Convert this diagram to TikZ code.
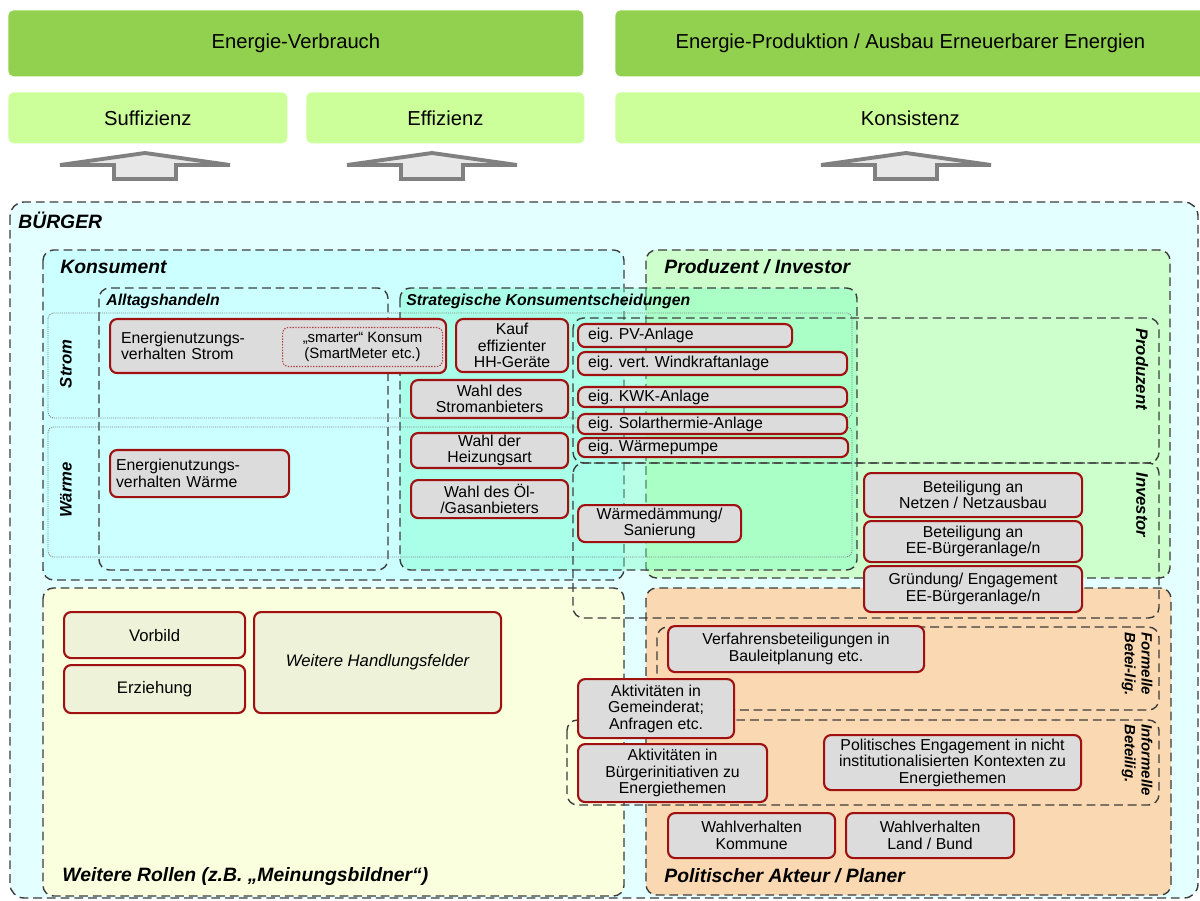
\documentclass[tikz,border=0pt]{standalone}
\usepackage{fontspec}
\setmainfont{Liberation Sans}
\usetikzlibrary{positioning}
\definecolor{topgreen}{RGB}{146,208,80}
\definecolor{palegreen}{RGB}{204,255,153}
\definecolor{buergercol}{RGB}{228,255,255}
\definecolor{konscol}{RGB}{204,255,255}
\definecolor{prodcol}{RGB}{204,255,204}
\definecolor{stratcol}{RGB}{110,255,190}
\definecolor{weitcol}{RGB}{250,255,222}
\definecolor{polcol}{RGB}{250,216,178}
\definecolor{boxgray}{RGB}{220,220,220}
\definecolor{boxkhaki}{RGB}{238,242,216}
\definecolor{boxred}{RGB}{160,16,16}
\definecolor{zonegray}{RGB}{60,60,60}
\definecolor{arrgray}{RGB}{128,128,128}
\frenchspacing

\begin{document}
\begin{tikzpicture}[x=0.2mm, y=-0.2mm,
    head/.style={fill=topgreen, rounded corners=3pt, anchor=north west, font=\fontsize{11.5}{13}\selectfont},
    sub/.style={head, fill=palegreen},
    uparr/.style={draw=arrgray, fill=gray!18, line width=2.2pt},
    zone/.style={draw=zonegray, line width=0.8pt, dash pattern=on 5pt off 2.8pt, rounded corners=6pt},
    row/.style={draw=gray, line width=0.5pt, dash pattern=on 0.6pt off 0.6pt, rounded corners=3pt},
    ttl/.style={anchor=west, inner sep=0pt, font=\bfseries\itshape\fontsize{11}{12}\selectfont},
    sttl/.style={ttl, font=\bfseries\itshape\fontsize{9}{10}\selectfont},
    vttl/.style={inner sep=0pt, align=left, font=\bfseries\itshape\fontsize{9.5}{10}\selectfont},
    rbox/.style={draw=boxred, fill=boxgray, line width=1.2pt, rounded corners=4pt, anchor=north west,
      align=center, inner sep=1pt, font=\fontsize{9}{9.4}\selectfont},
    lbox/.style={rbox, align=left, inner xsep=2mm},
    wbox/.style={rbox, fill=boxkhaki, font=\fontsize{9.5}{10}\selectfont},
    sz/.style 2 args={minimum width=#1*0.2mm, minimum height=#2*0.2mm},
  ]
  \fill[white] (0,0) rectangle (1200,901);
  \useasboundingbox (0,0) rectangle (1200,901);

  % Ziele oben
  \node[head, sz={575}{66}] (verbrauch) at (8,10) {Energie-Verbrauch};
  \node[head, sz={590}{66}] (produktion) at (615,10) {Energie-Produktion / Ausbau Erneuerbarer Energien};
  \node[sub, sz={279}{51}] (suff) at (8,92) {Suffizienz};
  \node[sub, sz={278}{51}] (eff) at (306,92) {Effizienz};
  \node[sub, sz={590}{51}] (konsis) at (615,92) {Konsistenz};
  \foreach \c in {145,432,906}
    \draw[uparr] (\c-85,165) -- (\c,153) -- (\c+85,165) -- (\c+31,165)
      -- (\c+31,179) -- (\c-31,179) -- (\c-31,165) -- cycle;

  % Rollen
  \draw[zone, fill=buergercol, rounded corners=8pt] (10,202) rectangle (1198,898);
  \draw[zone, fill=konscol] (43,250) rectangle (624,580);
  \draw[zone, fill=prodcol] (646,250) rectangle (1170,578);
  \draw[zone, fill=weitcol] (43,588) rectangle (624,896);
  \draw[zone, fill=polcol] (646,588) rectangle (1171,895);
  \draw[zone, fill=stratcol, fill opacity=0.37] (400,288) rectangle (857,570);
  \draw[zone] (99,288) rectangle (388,570);
  \draw[row] (48,313) rectangle (852,418);
  \draw[row] (48,427) rectangle (852,557);
  \draw[zone] (573,318) rectangle (1159,463);
  \draw[zone] (573,463) rectangle (1159,618);
  \draw[zone] (657,627) rectangle (1159,710);
  \draw[zone] (567,720) rectangle (1159,805);

  \node[ttl] (buerger) at (18,220) {BÜRGER};
  \node[ttl] (konsument) at (60,267) {Konsument};
  \node[ttl] (produzent) at (664,267) {Produzent / Investor};
  \node[sttl] (alltag) at (106,301) {Alltagshandeln};
  \node[sttl] (strat) at (406,301) {Strategische Konsumentscheidungen};
  \node[ttl] (weitere) at (62,876) {Weitere Rollen (z.B. „Meinungsbildner“)};
  \node[ttl] (politisch) at (664,876) {Politischer Akteur / Planer};
  \node[vttl, rotate=90] (stromlbl) at (66,364) {Strom};
  \node[vttl, rotate=90] (waermelbl) at (66,490) {Wärme};
  \node[vttl, rotate=-90] (prodlbl) at (1142,369) {Produzent};
  \node[vttl, rotate=-90] (invlbl) at (1142,505) {Investor};
  \node[vttl, rotate=-90, font=\bfseries\itshape\fontsize{8.5}{9.5}\selectfont] (formlbl) at (1137,664) {Formelle\\Betei-lig.};
  \node[vttl, rotate=-90, font=\bfseries\itshape\fontsize{8.5}{9.5}\selectfont] (informlbl) at (1137,760) {Informelle\\Beteilig.};

  % Handlungen
  \node[lbox, text width=62.8mm, inner xsep=2.2mm, minimum height=10.8mm] (stromverh) at (109,318) {Energienutzungs-\\verhalten Strom};
  \node[rbox, sz={160}{39}, draw=boxred!80, line width=0.6pt, dash pattern=on 0.8pt off 0.8pt, rounded corners=3pt,
    font=\fontsize{8.5}{9}\selectfont] (smart) at (282,327) {„smarter“ Konsum\\(SmartMeter etc.)};
  \node[lbox, text width=33.4mm, inner xsep=1.2mm, minimum height=9.4mm] (waermeverh) at (109,449) {Energienutzungs-\\verhalten Wärme};
  \node[rbox, sz={112}{53}] (kauf) at (455,318) {Kauf\\effizienter\\HH-Geräte};
  \node[rbox, sz={157}{38}] (stromanb) at (410,379) {Wahl des\\Stromanbieters};
  \node[rbox, sz={157}{35}] (heizart) at (410,432) {Wahl der\\Heizungsart};
  \node[rbox, sz={157}{38}] (oelgas) at (410,479) {Wahl des Öl-\\/Gasanbieters};
  \node[lbox, text width=38.8mm, minimum height=4.6mm] (pv) at (577,323) {eig. PV-Anlage};
  \node[lbox, text width=49.8mm, minimum height=4.6mm] (wind) at (577,351) {eig. vert. Windkraftanlage};
  \node[lbox, text width=49.8mm, minimum height=4mm] (kwk) at (577,386) {eig. KWK-Anlage};
  \node[lbox, text width=49.8mm, minimum height=4mm] (solar) at (577,413) {eig. Solarthermie-Anlage};
  \node[lbox, text width=50mm, minimum height=3.8mm] (wp) at (577,437) {eig. Wärmepumpe};
  \node[rbox, sz={163}{37}] (daemm) at (577,504) {Wärmedämmung/\\Sanierung};
  \node[rbox, sz={218}{44}] (netz) at (863,472) {Beteiligung an\\Netzen / Netzausbau};
  \node[rbox, sz={218}{41}] (eeanl) at (863,520) {Beteiligung an\\EE-Bürgeranlage/n};
  \node[rbox, sz={218}{46}] (gruend) at (863,565) {Gründung/ Engagement\\EE-Bürgeranlage/n};
  \node[rbox, sz={256}{46}] (verfahren) at (667,625) {Verfahrensbeteiligungen in\\Bauleitplanung etc.};
  \node[rbox, sz={156}{59}] (gemeinde) at (577,678) {Aktivitäten in\\Gemeinderat;\\Anfragen etc.};
  \node[rbox, sz={189}{58}] (initiativ) at (577,743) {Aktivitäten in\\Bürgerinitiativen zu\\Energiethemen};
  \node[rbox, sz={257}{55}] (politeng) at (823,734) {Politisches Engagement in nicht\\institutionalisierten Kontexten zu\\Energiethemen};
  \node[rbox, sz={167}{45}] (wahlkom) at (667,812) {Wahlverhalten\\Kommune};
  \node[rbox, sz={168}{45}] (wahlland) at (845,812) {Wahlverhalten\\Land / Bund};
  \node[wbox, sz={181}{46}] (vorbild) at (63,611) {Vorbild};
  \node[wbox, sz={181}{48}] (erziehung) at (63,664) {Erziehung};
  \node[wbox, sz={247}{101}, font=\itshape\fontsize{9.5}{10}\selectfont] (handlung) at (253,611) {Weitere Handlungsfelder};
\end{tikzpicture}
\end{document}
